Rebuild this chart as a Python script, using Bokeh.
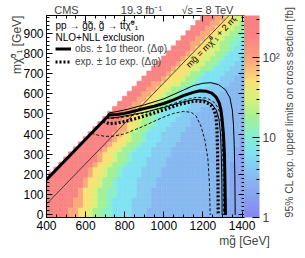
import math
from bokeh.plotting import figure
from bokeh.models import (Range1d, FixedTicker, LinearAxis, ColorBar, LogColorMapper, Axis,
                          Label, Legend, LegendItem, ColumnDataSource)
from bokeh.transform import transform
from bokeh.embed import file_html
from bokeh.resources import INLINE

FONT = "Liberation Sans"

# ---------------- data ----------------
mg_columns = list(range(400, 1401, 25))          # gluino mass grid [GeV]
lsp_rows = list(range(0, 976, 25))               # LSP mass grid [GeV]
# representative limit [fb] of each colour band: red, orange, yellow, yellow-green,
# green, aqua, cyan, sky, light blue, cornflower
band_values = [180, 90, 50, 30, 18, 11, 6.5, 4.3, 3.0, 2.2]
NA = 1425  # band not reached in that row
# per LSP row: first gluino mass of each band (first entry = first cell of the row)
band_starts = [
    [400, 525, 575, 625, 650, 700, 750, 850, 925, 1325],
    [400, 525, 575, 625, 650, 700, 750, 850, 925, 1325],
    [400, 550, 600, 650, 675, 725, 750, 850, 950, 1325],
    [400, 550, 600, 650, 675, 725, 750, 850, 950, 1325],
    [400, 575, 600, 650, 675, 725, 775, 875, 950, 1350],
    [400, 575, 600, 650, 675, 725, 775, 875, 950, 1350],
    [400, 600, 625, 675, 700, 750, 775, 875, 975, 1350],
    [400, 600, 625, 675, 700, 750, 775, 875, 975, 1350],
    [425, 625, 650, 700, 725, 775, 800, 900, 1000, 1350],
    [450, 625, 650, 700, 725, 775, 800, 900, 1000, 1350],
    [475, 650, 675, 725, 750, 800, 825, 925, 1025, 1350],
    [500, 675, 700, 750, 775, 825, 850, 925, 1025, 1375],
    [525, 675, 700, 750, 775, 825, 850, 950, 1050, 1375],
    [550, 700, 725, 775, 800, 850, 875, 950, 1050, 1375],
    [575, 725, 750, 800, 825, 875, 900, 975, 1075, 1400],
    [600, 750, 775, 825, 850, 900, 925, 1000, 1100, 1400],
    [625, 750, 800, 825, 850, 900, 925, 1000, 1100, NA],
    [650, 775, 825, 850, 875, 925, 950, 1025, 1125, NA],
    [675, 775, 825, 875, 900, 950, 975, 1050, 1150, NA],
    [700, 800, 850, 875, 900, 950, 975, 1075, 1150, NA],
    [725, 800, 850, 900, 925, 975, 1000, 1100, 1175, NA],
    [750, 825, 875, 925, 950, 1000, 1025, 1125, 1200, NA],
    [775, 850, 900, 950, 975, 1025, 1050, 1150, 1250, NA],
    [800, 875, 925, 975, 1000, 1050, 1075, 1175, 1275, NA],
    [825, 900, 950, 1000, 1025, 1075, 1100, 1200, 1300, NA],
    [850, 925, 975, 1025, 1050, 1100, 1125, 1225, 1325, NA],
    [875, 950, 1000, 1050, 1100, 1150, 1175, 1250, 1350, NA],
    [900, 1000, 1025, 1100, 1125, 1175, 1200, 1300, 1375, NA],
    [925, 1025, 1050, 1125, 1150, 1200, 1225, 1325, 1400, NA],
    [950, 1050, 1075, 1150, 1200, 1250, 1275, 1350, NA, NA],
    [975, 1075, 1100, 1175, 1225, 1275, 1300, 1375, NA, NA],
    [1000, 1100, 1125, 1200, 1250, 1300, 1325, 1400, NA, NA],
    [1025, 1125, 1150, 1225, 1275, 1325, 1350, NA, NA, NA],
    [1050, 1150, 1175, 1250, 1300, 1350, 1375, NA, NA, NA],
    [1075, 1150, 1200, 1250, 1300, 1350, 1400, NA, NA, NA],
    [1100, 1175, 1225, 1275, 1325, 1375, NA, NA, NA, NA],
    [1125, 1200, 1250, 1300, 1350, 1400, NA, NA, NA, NA],
    [1150, 1225, 1275, 1325, 1375, NA, NA, NA, NA, NA],
    [1175, 1250, 1300, 1350, 1400, NA, NA, NA, NA, NA],
    [1200, 1275, 1325, 1375, NA, NA, NA, NA, NA, NA],
]

obs_mg = [400, 720, 760, 800, 850, 900, 950, 1000, 1050, 1100, 1150, 1185, 1215, 1245, 1268, 1283, 1292, 1298, 1305, 1310, 1313, 1315]
obs_lsp = [175, 495, 497, 503, 515, 527, 538, 552, 570, 591, 607, 615, 613, 603, 583, 555, 520, 475, 400, 300, 150, 0]
obs_up_mg = [705, 720, 760, 800, 900, 1000, 1100, 1150, 1200, 1240, 1280, 1315, 1338, 1350, 1356, 1360, 1363, 1365]
obs_up_lsp = [480, 505, 512, 520, 545, 575, 618, 640, 652, 655, 645, 620, 580, 520, 450, 350, 200, 0]
obs_dn_mg = [702, 725, 760, 800, 900, 1000, 1100, 1160, 1210, 1245, 1268, 1282, 1290, 1294, 1297, 1298]
obs_dn_lsp = [477, 480, 483, 490, 508, 532, 560, 572, 568, 550, 520, 475, 400, 300, 150, 0]
exp_mg = [690, 720, 760, 800, 860, 906, 1000, 1080, 1160, 1210, 1240, 1258, 1267, 1272, 1275, 1277, 1278]
exp_lsp = [465, 452, 455, 462, 478, 492, 520, 548, 565, 560, 545, 520, 485, 420, 300, 150, 0]
exp_up_mg = [705, 740, 800, 900, 1000, 1100, 1170, 1220, 1255, 1278, 1290, 1297, 1301, 1304, 1305]
exp_up_lsp = [480, 478, 485, 505, 535, 568, 583, 578, 560, 530, 490, 420, 300, 150, 0]
exp_dn_mg = [630, 660, 700, 740, 800, 860, 911, 960, 1000, 1050, 1100, 1140, 1165, 1190, 1210, 1225, 1233, 1237]
exp_dn_lsp = [405, 396, 389, 390, 402, 425, 446, 468, 485, 503, 513, 508, 490, 440, 370, 280, 160, 0]
diag_mg = [400, 1346]
diag_lsp = [54, 1000]

x_major = [400, 600, 800, 1000, 1200, 1400]
x_minor = [450, 500, 550, 650, 700, 750, 850, 900, 950, 1050, 1100, 1150, 1250, 1300, 1350]
y_major = [0, 100, 200, 300, 400, 500, 600, 700, 800, 900]
y_minor = [20, 40, 60, 80, 120, 140, 160, 180, 220, 240, 260, 280, 320, 340, 360, 380,
           420, 440, 460, 480, 520, 540, 560, 580, 620, 640, 660, 680, 720, 740, 760, 780,
           820, 840, 860, 880, 920, 940, 960, 980]
cbar_major = [1, 10, 100]
cbar_minor = [2, 3, 4, 5, 6, 7, 8, 9, 20, 30, 40, 50, 60, 70, 80, 90, 200, 300]
cbar_labels = ["1", "10", "10²"]
header_texts = ["CMS", "19.3 fb⁻¹", "√s = 8 TeV"]
x_title = "mg̃ [GeV]"
y_title = "mχ̃⁰₁ [GeV]"
cb_title_text = "95% CL exp. upper limits on cross section [fb]"

# ---------------- layout ----------------
FW, FH = 198, 202
X0, X1 = 400, 1412.5
Y0, Y1 = -12.5, 987.5

def fx(px):   # pixels from the frame's left edge -> data x
    return X0 + px * (X1 - X0) / FW

def fy(px):   # pixels below the frame's top edge -> data y
    return Y1 - px * (Y1 - Y0) / FH

header_x = [fx(20), fx(95), fx(161)]

# palette (ROOT-like pastel rainbow)
anchors = [(0.0, "#8686f0"), (0.342, "#88a8f0"), (0.477, "#88b8f0"), (0.633, "#86caf2"),
           (0.813, "#80e2f2"), (1.041, "#88f0cc"), (1.255, "#a4f096"), (1.477, "#d6f27c"),
           (1.699, "#f8e276"), (1.954, "#f8aa7c"), (2.255, "#f88484"), (2.54, "#f88080")]
CB_HIGH = 340.0

def hex2rgb(h):
    return tuple(int(h[i:i + 2], 16) for i in (1, 3, 5))

palette = []
N = 256
top = math.log10(CB_HIGH)
for k in range(N):
    t = top * (k + 0.5) / N
    for (a, ca), (b, cb_) in zip(anchors[:-1], anchors[1:]):
        if a <= t <= b:
            f = (t - a) / (b - a)
            r1, g1, b1 = hex2rgb(ca)
            r2, g2, b2 = hex2rgb(cb_)
            palette.append("#%02x%02x%02x" % (round(r1 + f * (r2 - r1)), round(g1 + f * (g2 - g1)), round(b1 + f * (b2 - b1))))
            break
mapper = LogColorMapper(palette=palette, low=1, high=CB_HIGH)

cx, cy, cv = [], [], []
for lsp, starts in zip(lsp_rows, band_starts):
    for mg in mg_columns:
        if mg < starts[0]:
            continue
        k = max(i for i, s in enumerate(starts) if s <= mg)
        cx.append(mg)
        cy.append(lsp)
        cv.append(band_values[k])
src = ColumnDataSource(dict(mg=cx, lsp=cy, val=cv))

p = figure(frame_width=FW, frame_height=FH, x_range=Range1d(X0, X1), y_range=Range1d(Y0, Y1),
           output_backend="svg", toolbar_location=None, min_border=0)
p.title.visible = False
p.grid.visible = False
p.outline_line_color = "black"
p.outline_line_width = 1
p.background_fill_color = "white"
p.border_fill_color = "white"

p.rect(x="mg", y="lsp", width=25, height=25, source=src,
       fill_color=transform("val", mapper), line_color=transform("val", mapper), line_width=0.6)
p.line(diag_mg, diag_lsp, line_color="#222222", line_width=0.8)
p.line(exp_dn_mg, exp_dn_lsp, line_color="black", line_width=0.9, line_dash="3 2")
p.line(exp_up_mg, exp_up_lsp, line_color="black", line_width=0.9, line_dash="3 2")
r_exp = p.line(exp_mg, exp_lsp, line_color="black", line_width=3.2, line_dash="2 2")
p.line(obs_dn_mg, obs_dn_lsp, line_color="black", line_width=1)
p.line(obs_up_mg, obs_up_lsp, line_color="black", line_width=1)
r_obs = p.line(obs_mg, obs_lsp, line_color="black", line_width=3)

HAS_ALIGN = "axis_label_align" in Axis.properties()

for ax, ticks, minor in ((p.xaxis[0], x_major, x_minor), (p.yaxis[0], y_major, y_minor)):
    ax.ticker = FixedTicker(ticks=ticks, minor_ticks=minor)
    ax.major_tick_in = 6
    ax.major_tick_out = 0
    ax.minor_tick_in = 3
    ax.minor_tick_out = 0
    ax.major_label_text_font = FONT
    ax.major_label_text_font_size = "12px"
    ax.major_label_text_color = "black"
    ax.major_label_standoff = 3
    ax.axis_line_color = "black"
xa = p.xaxis[0]
xa.axis_label = x_title
xa.axis_label_text_font = FONT
xa.axis_label_text_font_size = "12px"
xa.axis_label_text_font_style = "normal"
xa.axis_label_standoff = 1
if HAS_ALIGN:
    xa.axis_label_align = "end"

# y title: a label-only axis whose single tick sits at the frame top (text hangs downward)
yt = LinearAxis(ticker=FixedTicker(ticks=[Y1 - 0.5]), major_label_overrides={Y1 - 0.5: y_title},
                major_label_orientation=math.pi / 2, major_tick_in=0, major_tick_out=0,
                minor_tick_in=0, minor_tick_out=0, major_tick_line_color=None, axis_line_color=None,
                major_label_standoff=3, major_label_text_font=FONT, major_label_text_font_size="12px")
p.add_layout(yt, "left")

# mirrored ticks (top / right) without labels
for ticks, length in ((x_major, 6), (x_minor, 3)):
    p.add_layout(LinearAxis(fixed_location=Y1, ticker=FixedTicker(ticks=[], minor_ticks=ticks),
                            minor_tick_in=0, minor_tick_out=length, major_tick_in=0, major_tick_out=0,
                            axis_line_color=None, minor_tick_line_color="black"), "below")
for ticks, length in ((y_major, 6), (y_minor, 3)):
    p.add_layout(LinearAxis(fixed_location=X1, ticker=FixedTicker(ticks=[], minor_ticks=ticks),
                            minor_tick_in=0, minor_tick_out=length, major_tick_in=0, major_tick_out=0,
                            axis_line_color=None, minor_tick_line_color="black"), "left")

# header line above the frame
head = LinearAxis(ticker=FixedTicker(ticks=header_x),
                  major_label_overrides={x: s for x, s in zip(header_x, header_texts)},
                  major_tick_in=0, major_tick_out=0, minor_tick_in=0, minor_tick_out=0,
                  major_tick_line_color=None, axis_line_color=None, major_label_standoff=0,
                  major_label_text_font=FONT, major_label_text_font_size="11px")
p.add_layout(head, "above")

cb = ColorBar(color_mapper=mapper, width=15, padding=0, margin=0,
              ticker=FixedTicker(ticks=cbar_major, minor_ticks=cbar_minor),
              major_label_overrides={t: s for t, s in zip(cbar_major, cbar_labels)},
              major_label_text_font=FONT, major_label_text_font_size="12px",
              major_tick_in=7, major_tick_out=0, minor_tick_in=3, minor_tick_out=0,
              major_tick_line_color="black", minor_tick_line_color="black",
              bar_line_color=None, label_standoff=3, title=None)
p.add_layout(cb, "right")

# colour-bar title: single tick at the frame bottom, text rising upward
cb_anchor = Y0 + 0.5
cbt = LinearAxis(ticker=FixedTicker(ticks=[cb_anchor]),
                 major_label_overrides={cb_anchor: cb_title_text},
                 major_label_orientation=math.pi / 2, major_tick_in=0, major_tick_out=0,
                 minor_tick_in=0, minor_tick_out=0, major_tick_line_color=None, axis_line_color=None,
                 major_label_standoff=7, major_label_text_font=FONT, major_label_text_font_size="10.4px")
p.add_layout(cbt, "right")

def lab(text, x, y, size, align="left", baseline="middle", angle=0.0):
    p.add_layout(Label(x=x, y=y, text=text, text_font=FONT, text_font_size=size,
                       text_align=align, text_baseline=baseline, angle=angle, text_color="black"))

# legend
lab("pp → g̃g̃, g̃ → tt̄χ̃⁰₁", fx(9), fy(10), "10px")
lab("NLO+NLL exclusion", fx(9), fy(22), "10px")
legend = Legend(items=[LegendItem(label="obs. ± 1σ theor. (Δφ)", renderers=[r_obs]),
                       LegendItem(label="exp. ± 1σ exp. (Δφ)", renderers=[r_exp])],
                location=(9, FH - 27 - 26), glyph_width=16, glyph_height=13, label_height=13,
                spacing=0, padding=0, margin=0, label_standoff=4,
                label_text_font=FONT, label_text_font_size="10px",
                background_fill_alpha=0, border_line_color=None)
p.add_layout(legend)

# diagonal label
ang = math.atan((FH / (Y1 - Y0)) / (FW / (X1 - X0)))
lab("mg̃ = mχ̃⁰₁ + 2 mₜ", 1225, 875, "9px", "center", "top", ang)

open("out.html", "w").write(file_html(p, INLINE))
